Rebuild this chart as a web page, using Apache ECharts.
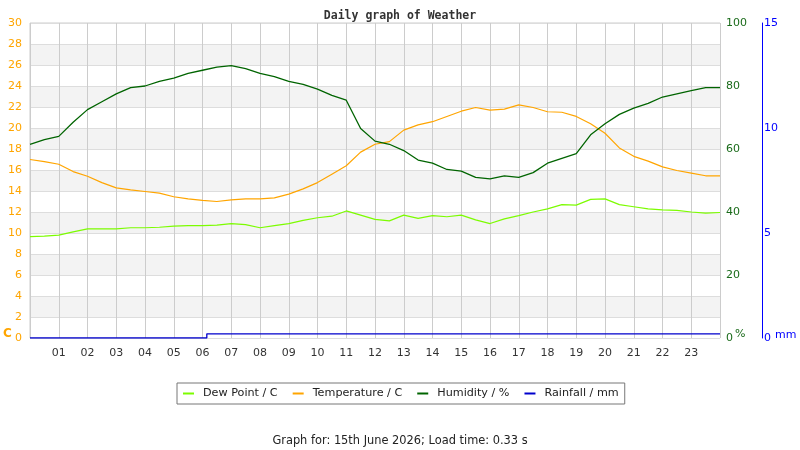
<!DOCTYPE html>
<html>
<head>
<meta charset="UTF-8"/>
<title>Daily graph of Weather</title>
<script src="https://cdn.jsdelivr.net/npm/echarts@6/dist/echarts.min.js"></script>
<style>
html, body { margin:0; padding:0; background:#fff; }
#main { width:800px; height:450px; }
</style>
</head>
<body>
<div id="main"></div>
<script type="text/javascript">
// half-hour readings, hours from midnight
var hours = [0,0.5,1,1.5,2,2.5,3,3.5,4,4.5,5,5.5,6,6.5,7,7.5,8,8.5,9,9.5,10,10.5,11,11.5,
	12,12.5,13,13.5,14,14.5,15,15.5,16,16.5,17,17.5,18,18.5,19,19.5,20,20.5,21,21.5,22,22.5,23,23.5,24];
var temperature = [17.0,16.8,16.55,15.85,15.4,14.8,14.3,14.1,13.95,13.8,13.45,13.25,13.1,13.0,13.15,13.25,
	13.25,13.35,13.7,14.2,14.8,15.6,16.4,17.7,18.45,18.7,19.8,20.3,20.6,21.1,21.6,21.95,
	21.7,21.8,22.2,21.95,21.55,21.5,21.1,20.4,19.5,18.1,17.3,16.85,16.3,15.95,15.7,15.45,15.45];
var dewPoint = [9.65,9.7,9.8,10.1,10.4,10.4,10.4,10.5,10.5,10.55,10.65,10.7,10.7,10.75,10.9,10.8,
	10.5,10.7,10.9,11.2,11.45,11.6,12.1,11.7,11.3,11.15,11.7,11.4,11.65,11.55,11.7,11.25,
	10.9,11.35,11.65,12.0,12.3,12.7,12.65,13.2,13.25,12.7,12.5,12.3,12.2,12.15,12.0,11.9,11.95];
var humidity = [61.5,63,64,68.5,72.5,75,77.5,79.5,80,81.5,82.5,84,85,86,86.5,85.5,
	84,83,81.5,80.5,79,77,75.5,66.5,62.5,61.5,59.5,56.5,55.5,53.5,53,51,
	50.5,51.5,51,52.5,55.5,57,58.5,64.5,68,71,73,74.5,76.5,77.5,78.5,79.5,79.5];
// cumulative rainfall (mm)
var rainTimes = [0,6.15,24];
var rainfall = [0,0.2,0.2];
var hourLabels = ['01','02','03','04','05','06','07','08','09','10','11','12',
	'13','14','15','16','17','18','19','20','21','22','23'];

function pairs(xs, ys){
	var out = [];
	for (var i = 0; i < xs.length; i++) { out.push([xs[i], ys[i]]); }
	return out;
}

var myChart = echarts.init(document.getElementById('main'));
var font = 'DejaVu Sans';
var option = {
	animation: false,
	backgroundColor: '#fff',
	title: [
		{
			text: 'Daily graph of Weather',
			left: 'center', top: 5,
			textStyle: { fontFamily: 'DejaVu Sans Mono', fontWeight: 'bold', fontSize: 11.5, color: '#333' }
		},
		{
			text: 'Graph for: 15th June 2026; Load time: 0.33 s',
			left: 'center', top: 431,
			textStyle: { fontFamily: font, fontWeight: 'normal', fontSize: 11.4, color: '#222' }
		}
	],
	legend: {
		left: 177, top: 383,
		padding: [5, 6, 5, 6],
		borderColor: '#777', borderWidth: 1,
		itemWidth: 11, itemHeight: 2, itemGap: 15,
		icon: 'rect',
		textStyle: { fontFamily: font, fontSize: 11.2, color: '#222', padding: [0, 0, 0, 4] },
		data: ['Dew Point / C', 'Temperature / C', 'Humidity / %', 'Rainfall / mm']
	},
	grid: {
		left: 30, right: 80, top: 23, bottom: 112,
		show: true, borderColor: '#ccc', borderWidth: 1
	},
	xAxis: {
		type: 'value', min: 0, max: 24, interval: 1,
		axisLine: { show: false },
		axisTick: { show: false },
		splitLine: { show: true, lineStyle: { color: '#ccc' } },
		axisLabel: {
			margin: 10, fontFamily: font, fontSize: 11, color: '#333',
			formatter: function(v){ return (v >= 1 && v <= 23) ? hourLabels[v - 1] : ''; }
		}
	},
	yAxis: [
		{
			type: 'value', min: 0, max: 30, interval: 2, position: 'left',
			axisLine: { show: false }, axisTick: { show: false },
			splitLine: { show: true, lineStyle: { color: '#ddd' } },
			splitArea: { show: true, areaStyle: { color: ['#ffffff', '#f3f3f3'] } },
			axisLabel: { margin: 8, fontFamily: font, fontSize: 11, color: '#ffa500' }
		},
		{
			type: 'value', min: 0, max: 100, interval: 20, position: 'right',
			axisLine: { show: false }, axisTick: { show: false },
			splitLine: { show: false },
			axisLabel: { margin: 6, fontFamily: font, fontSize: 11, color: '#1a6b1a' }
		},
		{
			type: 'value', min: 0, max: 15, interval: 5, position: 'right', offset: 42,
			axisLine: { show: true, lineStyle: { color: '#0000ff', width: 1 } },
			axisTick: { show: false },
			splitLine: { show: false },
			axisLabel: { margin: 2, fontFamily: font, fontSize: 11, color: '#0000ff' }
		}
	],
	graphic: [
		{ type: 'text', left: 3, top: 328, style: { text: 'C', fill: '#ffa500', font: 'bold 12px DejaVu Sans' } },
		{ type: 'text', left: 735, top: 329, style: { text: '%', fill: '#1a6b1a', font: '11px DejaVu Sans' } },
		{ type: 'text', left: 775, top: 330, style: { text: 'mm', fill: '#0000ff', font: '11px DejaVu Sans' } }
	],
	series: [
		{
			name: 'Dew Point / C', type: 'line', yAxisIndex: 0,
			showSymbol: false, color: '#7cfc00',
			lineStyle: { width: 1.2 },
			data: pairs(hours, dewPoint)
		},
		{
			name: 'Temperature / C', type: 'line', yAxisIndex: 0,
			showSymbol: false, color: '#ffa500',
			lineStyle: { width: 1.2 },
			data: pairs(hours, temperature)
		},
		{
			name: 'Humidity / %', type: 'line', yAxisIndex: 1,
			showSymbol: false, color: '#006400',
			lineStyle: { width: 1.3 },
			data: pairs(hours, humidity)
		},
		{
			name: 'Rainfall / mm', type: 'line', yAxisIndex: 2,
			showSymbol: false, color: '#0000cc', step: 'end',
			lineStyle: { width: 1.3 },
			data: pairs(rainTimes, rainfall)
		}
	]
};
myChart.setOption(option);
</script>
</body>
</html>
